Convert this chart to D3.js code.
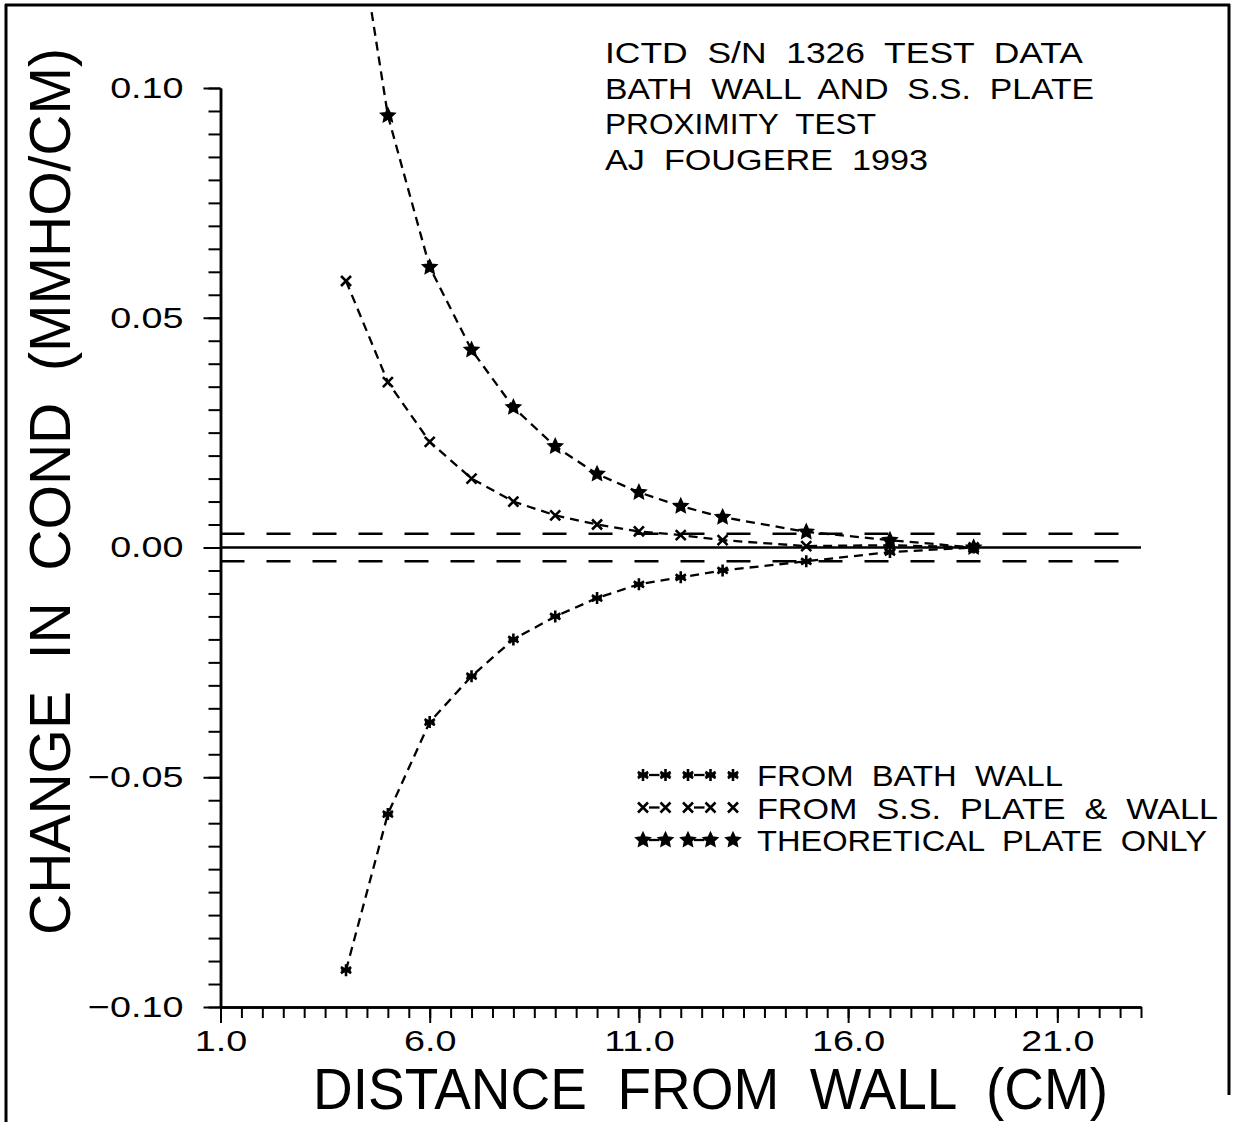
<!DOCTYPE html>
<html>
<head>
<meta charset="utf-8">
<script src="https://cdn.jsdelivr.net/npm/d3@7"></script>
<style>
body { margin: 0; background: #fff; }
text { font-family: "Liberation Sans", Arial, sans-serif; fill: #000; white-space: pre; }
</style>
</head>
<body>
<div id="chart"></div>
<script>
// values
var distance = [4, 5, 6, 7, 8, 9, 10, 11, 12, 13, 15, 17, 19];
var bathWall = [-0.092, -0.058, -0.038, -0.028, -0.020, -0.015, -0.011, -0.008, -0.0065, -0.005, -0.003, -0.001, 0.0];
var plateAndWall = [0.058, 0.036, 0.023, 0.015, 0.010, 0.007, 0.005, 0.0035, 0.0027, 0.0016, 0.0003, 0.0005, 0.0];
var theoretical = [0.152, 0.094, 0.061, 0.043, 0.0305, 0.022, 0.016, 0.012, 0.009, 0.0066, 0.0034, 0.0016, 0.0];
var xTicks = [1, 6, 11, 16, 21];
var yTicks = [-0.10, -0.05, 0.00, 0.05, 0.10];
var band = [-0.003, 0.003];
var titleLines = ["ICTD  S/N  1326  TEST  DATA", "BATH  WALL  AND  S.S.  PLATE", "PROXIMITY  TEST", "AJ  FOUGERE  1993"];
var legendNames = ["FROM  BATH  WALL", "FROM  S.S.  PLATE  &  WALL", "THEORETICAL  PLATE  ONLY"];

var width = 1233;
var height = 1122;

var svg = d3.select('#chart')
    .append('svg')
    .attr('width', width)
    .attr('height', height);

svg.append('defs').append('clipPath')
    .attr('id', 'frame-clip')
    .append('rect')
    .attr('x', 7).attr('y', 7)
    .attr('width', 1220).attr('height', 1113);

// outer frame
var frame = svg.append('g').attr('stroke', '#000').attr('stroke-width', 3);
frame.append('line').attr('x1', 5).attr('x2', 1230).attr('y1', 5).attr('y2', 5);
frame.append('line').attr('x1', 6).attr('x2', 6).attr('y1', 4).attr('y2', 1122);
frame.append('line').attr('x1', 1229).attr('x2', 1229).attr('y1', 4).attr('y2', 1095);

var x = d3.scaleLinear().domain([1, 23]).range([220.5, 1141]);
var y = d3.scaleLinear().domain([-0.1, 0.1]).range([1007, 88]);

var fmtY = function(d) { return d3.format('.2f')(d).replace('-', '\u2212'); };

// x axis: minor then major
var xMinor = svg.append('g')
    .attr('transform', 'translate(0,' + y(-0.1) + ')')
    .call(d3.axisBottom(x).tickValues(d3.range(1, 23.01, 0.5)).tickSize(11).tickSizeOuter(0).tickFormat(''));
var xMajor = svg.append('g')
    .attr('transform', 'translate(0,' + y(-0.1) + ')')
    .call(d3.axisBottom(x).tickValues(xTicks).tickSize(16).tickSizeOuter(0).tickPadding(9).tickFormat(d3.format('.1f')));

var yMinor = svg.append('g')
    .attr('transform', 'translate(' + x(1) + ',0)')
    .call(d3.axisLeft(y).tickValues(d3.range(-0.1, 0.1001, 0.005)).tickSize(12).tickSizeOuter(0).tickFormat(''));
var yMajor = svg.append('g')
    .attr('transform', 'translate(' + x(1) + ',0)')
    .call(d3.axisLeft(y).tickValues(yTicks).tickSize(17).tickSizeOuter(0).tickPadding(20).tickFormat(fmtY));

xMinor.selectAll('.tick text').remove();
yMinor.selectAll('.tick text').remove();

[xMinor, xMajor, yMinor, yMajor].forEach(function(g) {
    g.select('.domain').attr('stroke', '#000').attr('stroke-width', 2.5);
    g.selectAll('.tick line').attr('stroke', '#000').attr('stroke-width', 2);
    g.selectAll('.tick text')
        .attr('fill', '#000')
        .style('font-family', '"Liberation Sans", Arial, sans-serif')
        .style('font-size', '29px');
});

// stretch tick labels to the wide plotter lettering
xMajor.selectAll('.tick text')
    .attr('y', null)
    .attr('dy', null)
    .attr('y', 44);
[xMajor, yMajor].forEach(function(g) {
    g.selectAll('.tick text').each(function() {
        var w = this.getComputedTextLength();
        d3.select(this).attr('textLength', w * 1.3).attr('lengthAdjust', 'spacingAndGlyphs');
    });
});

// zero line and +/- band
svg.append('line')
    .attr('x1', x(1)).attr('x2', x(23))
    .attr('y1', y(0)).attr('y2', y(0))
    .attr('stroke', '#000').attr('stroke-width', 2.5);

svg.selectAll('.band')
    .data(band)
    .enter()
    .append('line')
    .attr('class', 'band')
    .attr('x1', x(1)).attr('x2', x(22.5))
    .attr('y1', function(d) { return y(d); })
    .attr('y2', function(d) { return y(d); })
    .attr('stroke', '#000').attr('stroke-width', 2.5)
    .attr('stroke-dasharray', '24,22');

// markers
var asterisk = {
    draw: function(ctx, r) {
        for (var i = 0; i < 3; i++) {
            var a = Math.PI / 2 + i * Math.PI / 3;
            ctx.moveTo(r * Math.cos(a), r * Math.sin(a));
            ctx.lineTo(-r * Math.cos(a), -r * Math.sin(a));
        }
        ctx.moveTo(-r * 0.8, 0);
        ctx.lineTo(r * 0.8, 0);
    }
};
var cross = {
    draw: function(ctx, r) {
        ctx.moveTo(-r, -r); ctx.lineTo(r, r);
        ctx.moveTo(-r, r); ctx.lineTo(r, -r);
    }
};
var star = {
    draw: function(ctx, r) {
        for (var i = 0; i < 10; i++) {
            var rr = i % 2 === 0 ? r : r * 0.48;
            var a = -Math.PI / 2 + i * Math.PI / 5;
            if (i === 0) ctx.moveTo(rr * Math.cos(a), rr * Math.sin(a));
            else ctx.lineTo(rr * Math.cos(a), rr * Math.sin(a));
        }
        ctx.closePath();
    }
};

var series = [
    { name: legendNames[0], values: bathWall, symbol: asterisk, size: 6, fill: 'none', sw: 2.6 },
    { name: legendNames[1], values: plateAndWall, symbol: cross, size: 5, fill: 'none', sw: 2.6 },
    { name: legendNames[2], values: theoretical, symbol: star, size: 7.5, fill: '#000', sw: 1.5 }
];

var line = d3.line()
    .x(function(d, i) { return x(distance[i]); })
    .y(function(d) { return y(d); });

var plot = svg.append('g').attr('clip-path', 'url(#frame-clip)');

series.forEach(function(s) {
    plot.append('path')
        .attr('d', line(s.values))
        .attr('fill', 'none')
        .attr('stroke', '#000')
        .attr('stroke-width', 2.3)
        .attr('stroke-dasharray', '9,6');

    var sym = d3.symbol().type(s.symbol).size(s.size);
    plot.selectAll(null)
        .data(s.values)
        .enter()
        .append('path')
        .attr('transform', function(d, i) { return 'translate(' + x(distance[i]) + ',' + y(d) + ')'; })
        .attr('d', sym)
        .attr('fill', s.fill)
        .attr('stroke', '#000')
        .attr('stroke-width', s.sw);
});

// title block
var titleWidths = [478, 489, 271, 323];
svg.selectAll('.title')
    .data(titleLines)
    .enter()
    .append('text')
    .attr('class', 'title')
    .attr('x', 605)
    .attr('y', function(d, i) { return 63 + i * 35.5; })
    .attr('textLength', function(d, i) { return titleWidths[i]; })
    .attr('lengthAdjust', 'spacingAndGlyphs')
    .style('font-size', '29px')
    .text(function(d) { return d; });

// legend
var legendWidths = [306, 461, 450];
var legend = svg.selectAll('.legend')
    .data(series)
    .enter()
    .append('g')
    .attr('class', 'legend')
    .attr('transform', function(d, i) { return 'translate(0,' + (775 + i * 32.5) + ')'; });

legend.each(function(s, k) {
    var g = d3.select(this);
    var xs = [643, 665.5, 688, 710.5, 733];
    [[0, 1], [2, 3]].forEach(function(p) {
        g.append('line')
            .attr('x1', xs[p[0]] + 6).attr('x2', xs[p[1]] - 6)
            .attr('y1', 0).attr('y2', 0)
            .attr('stroke', '#000').attr('stroke-width', 2.3);
    });
    var sym = d3.symbol().type(s.symbol).size(s.size);
    xs.forEach(function(px) {
        g.append('path')
            .attr('transform', 'translate(' + px + ',0)')
            .attr('d', sym)
            .attr('fill', s.fill)
            .attr('stroke', '#000')
            .attr('stroke-width', s.sw);
    });
    g.append('text')
        .attr('x', 757)
        .attr('y', 11)
        .attr('textLength', legendWidths[k])
        .attr('lengthAdjust', 'spacingAndGlyphs')
        .style('font-size', '29px')
        .text(s.name);
});

// axis titles
svg.append('text')
    .attr('x', 313)
    .attr('y', 1109)
    .attr('textLength', 795)
    .attr('lengthAdjust', 'spacingAndGlyphs')
    .style('font-size', '57px')
    .text('DISTANCE  FROM  WALL  (CM)');

svg.append('text')
    .attr('transform', 'translate(70,935) rotate(-90)')
    .attr('x', 0)
    .attr('y', 0)
    .attr('textLength', 887)
    .attr('lengthAdjust', 'spacingAndGlyphs')
    .style('font-size', '58px')
    .text('CHANGE  IN  COND  (MMHO/CM)');
</script>
</body>
</html>
